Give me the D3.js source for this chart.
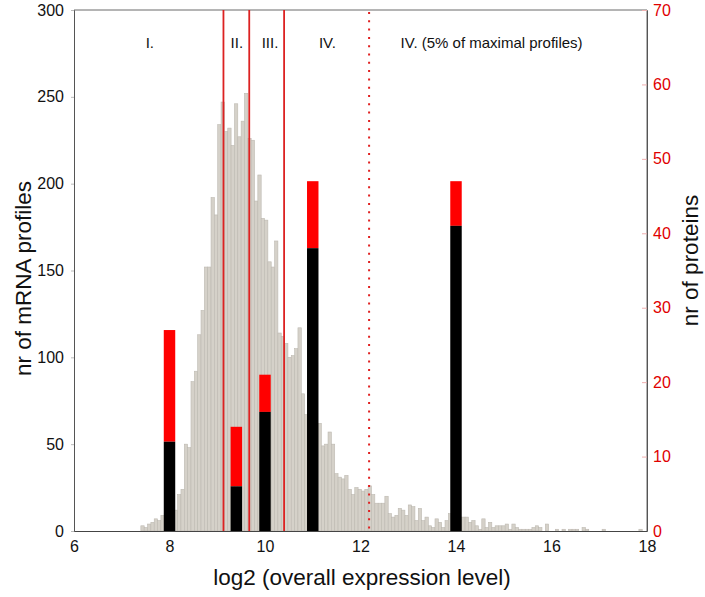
<!DOCTYPE html>
<html>
<head>
<meta charset="utf-8">
<script src="https://cdn.jsdelivr.net/npm/d3@7"></script>
<style>
  body { margin: 0; background: #fff; }
  svg { display: block; font-family: "Liberation Sans", Arial, sans-serif; }
</style>
</head>
<body>
<svg id="chart" width="705" height="597"></svg>
<script>
// ---- data ----
const binStart = 7.40;
const binWidth = 0.07;
const mrnaCounts = [
  3, 2, 4, 5, 7, 6, 9, 10, 11, 12,
  12, 21, 24, 50, 48, 86, 92, 113, 127, 152,
  152, 192, 182, 234, 247, 230, 232, 222, 246, 227,
  236, 252, 226, 225, 190, 205, 180, 179, 155, 152,
  167, 114, 112, 108, 100, 101, 105, 117, 79, 67,
  64, 60, 58, 62, 49, 50, 57, 50, 33, 31,
  30, 32, 24, 21, 25, 24, 23, 24, 26, 21,
  16, 16, 16, 20, 10, 8, 9, 13, 12, 9,
  15, 14, 6, 13, 6, 8, 3, 2, 7, 5,
  2, 6, 10, 7, 9, 8, 8, 8, 5, 6,
  3, 1, 7, 2, 5, 2, 3, 3, 3, 4,
  1, 4, 2, 1, 1, 1, 1, 2, 3, 2,
  0, 4, 0, 0, 1, 0, 1, 0, 1, 1,
  1, 0, 2, 1, 0, 0, 0, 0, 1, 0,
  0, 0, 0, 0, 0, 0, 0, 0, 0, 1
];
const proteinCenters = [8, 9.4, 10, 11, 14];
const proteinBlack = [12, 6, 16, 38, 41];
const proteinTotal = [27, 14, 21, 47, 47];
const proteinBarWidth = 0.24;
const boundaries = [9.13, 9.67, 10.40];
const topFivePct = 12.18;
const regionLabels = ["I.", "II.", "III.", "IV.", "IV. (5% of maximal profiles)"];
const regionLabelX = [7.50, 9.28, 9.93, 11.13, 12.84];
const xTicks = [6, 8, 10, 12, 14, 16, 18];
const yLeftTicks = [0, 50, 100, 150, 200, 250, 300];
const yRightTicks = [0, 10, 20, 30, 40, 50, 60, 70];

// ---- layout ----
const L = 74, R = 647, T = 10, B = 531;
const svg = d3.select("#chart");
const x = d3.scaleLinear().domain([6, 18]).range([L, R]);
const yL = d3.scaleLinear().domain([0, 300]).range([B, T]);
const yR = d3.scaleLinear().domain([0, 70]).range([B, T]);

// frame (top & right)
svg.append("path")
  .attr("d", `M${L},${T}H${R}V${B}`)
  .attr("fill", "none").attr("stroke", "#6a6a6a").attr("stroke-width", 1);

// histogram
const bins = mrnaCounts.map((c, i) => ({x0: binStart + i * binWidth, x1: binStart + (i + 1) * binWidth, c}));
svg.append("g").selectAll("rect").data(bins.filter(d => d.c > 0)).join("rect")
  .attr("x", d => x(d.x0))
  .attr("width", d => x(d.x1) - x(d.x0))
  .attr("y", d => yL(d.c))
  .attr("height", d => yL(0) - yL(d.c))
  .attr("fill", "#d5d1c9")
  .attr("stroke", "#bdb9b1")
  .attr("stroke-width", 0.6);

// protein bars
const prot = proteinCenters.map((c, i) => ({c, b: proteinBlack[i], t: proteinTotal[i]}));
const pg = svg.append("g");
pg.selectAll("rect.red").data(prot).join("rect").attr("class", "red")
  .attr("x", d => x(d.c - proteinBarWidth / 2))
  .attr("width", d => x(d.c + proteinBarWidth / 2) - x(d.c - proteinBarWidth / 2))
  .attr("y", d => yR(d.t))
  .attr("height", d => yR(d.b) - yR(d.t))
  .attr("fill", "#ff0000");
pg.selectAll("rect.blk").data(prot).join("rect").attr("class", "blk")
  .attr("x", d => x(d.c - proteinBarWidth / 2))
  .attr("width", d => x(d.c + proteinBarWidth / 2) - x(d.c - proteinBarWidth / 2))
  .attr("y", d => yR(d.b))
  .attr("height", d => yR(0) - yR(d.b))
  .attr("fill", "#000000");

// boundary lines
svg.append("g").selectAll("line").data(boundaries).join("line")
  .attr("x1", d => x(d)).attr("x2", d => x(d))
  .attr("y1", T).attr("y2", B)
  .attr("stroke", "#dc2222").attr("stroke-width", 1.8);
svg.append("line")
  .attr("x1", x(topFivePct)).attr("x2", x(topFivePct))
  .attr("y1", T + 2).attr("y2", B)
  .attr("stroke", "#e02020").attr("stroke-width", 2)
  .attr("stroke-dasharray", "2,6.3");

// axes
const fs = 16;
const gl = svg.append("g").attr("transform", `translate(${L},0)`)
  .call(d3.axisLeft(yL).tickValues(yLeftTicks).tickSize(3).tickPadding(7));
gl.select(".domain").attr("stroke", "#555");
gl.selectAll(".tick line").attr("stroke", "#bbb");
gl.selectAll("text").attr("font-size", fs).attr("fill", "#111").attr("font-family", "Liberation Sans, Arial, sans-serif");

const gr = svg.append("g").attr("transform", `translate(${R},0)`)
  .call(d3.axisRight(yR).tickValues(yRightTicks).tickSizeInner(-5).tickSizeOuter(0).tickPadding(6));
gr.select(".domain").attr("stroke", "#555");
gr.selectAll(".tick line").attr("stroke", "#f0b0b0");
gr.selectAll("text").attr("font-size", fs).attr("fill", "#e00000").attr("font-family", "Liberation Sans, Arial, sans-serif");

const gb = svg.append("g").attr("transform", `translate(0,${B})`)
  .call(d3.axisBottom(x).tickValues(xTicks).tickSize(0).tickPadding(10));
gb.select(".domain").attr("stroke", "#444");
gb.selectAll("text").attr("font-size", fs).attr("fill", "#111").attr("font-family", "Liberation Sans, Arial, sans-serif");

// region labels
svg.append("g").selectAll("text").data(regionLabels).join("text")
  .attr("x", (d, i) => x(regionLabelX[i]))
  .attr("y", 48)
  .attr("font-size", 15)
  .attr("fill", "#111")
  .text(d => d);

// titles
svg.append("text").attr("x", 362).attr("y", 585)
  .attr("text-anchor", "middle").attr("font-size", 22.5).attr("fill", "#111")
  .text("log2 (overall expression level)");
svg.append("text").attr("transform", `translate(31,${(T + B) / 2 + 8}) rotate(-90)`)
  .attr("text-anchor", "middle").attr("font-size", 22.5).attr("fill", "#111")
  .text("nr of mRNA profiles");
svg.append("text").attr("transform", `translate(698,${(T + B) / 2 - 10}) rotate(-90)`)
  .attr("text-anchor", "middle").attr("font-size", 22.5).attr("fill", "#111")
  .text("nr of proteins");
</script>
</body>
</html>
